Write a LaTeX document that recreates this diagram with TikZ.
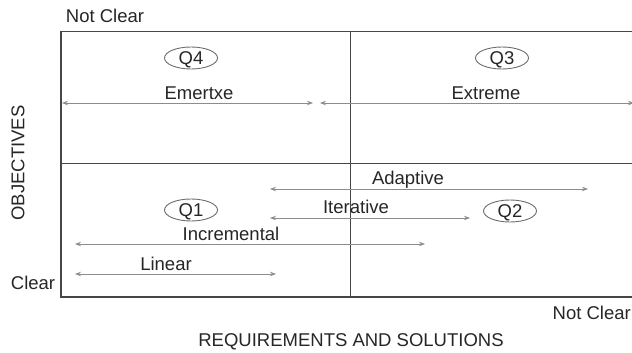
\documentclass[tikz,border=0pt]{standalone}
\usepackage{fontspec}
\setmainfont{Liberation Sans}
\usetikzlibrary{arrows.meta,shapes.geometric}
\definecolor{framec}{RGB}{70,70,70}
\definecolor{arrowc}{RGB}{140,140,140}
\definecolor{ellc}{RGB}{110,110,110}
\begin{document}
\begin{tikzpicture}[x=1pt,y=-1pt,
  lbl/.style={font=\fontsize{18.5}{21}\selectfont, text=black!85, inner sep=0pt},
  quad/.style={ellipse, draw=ellc, line width=0.9pt, font=\fontsize{18.5}{21}\selectfont, text=black!85, minimum width=53pt, minimum height=22pt, inner sep=0pt, text height=13pt, text depth=0pt},
  dbl/.style={arrowc, line width=0.9pt, {Stealth[length=6pt,width=4.5pt]}-{Stealth[length=6pt,width=4.5pt]}},
  frame/.style={framec, line width=1.6pt},
  thin/.style={framec, line width=0.9pt}]
\useasboundingbox (0,0) rectangle (632,353);
% frame
\draw[thin] (61,31) -- (634,31);
\draw[thin] (61,163) -- (634,163);
\draw[thin] (350,31) -- (350,297);
\draw[frame] (61,31) -- (61,297) -- (634,297);
% axis texts
\node[lbl] (nc1) at (105,16) {Not Clear};
\node[lbl] (cl) at (33,283) {Clear};
\node[lbl, anchor=east] (nc2) at (631,313) {Not Clear};
\node[lbl] (req) at (351,342) {REQUIREMENTS AND SOLUTIONS};
\node[lbl, rotate=90] (obj) at (18,163) {OBJECTIVES};
% quadrant labels
\node[quad] (q4) at (191,58) {Q4};
\node[quad] (q3) at (502,58) {Q3};
\node[quad] (q1) at (191,210) {Q1};
\node[quad] (q2) at (510,211) {Q2};
% arrow ends
\coordinate (ea) at (62,103); \coordinate (eb) at (313,103);
\coordinate (xa) at (320,103); \coordinate (xb) at (634,103);
\coordinate (aa) at (270,189); \coordinate (ab) at (588,189);
\coordinate (ia) at (270,218); \coordinate (ib) at (470,218);
\coordinate (na) at (75,244); \coordinate (nb) at (425,244);
\coordinate (la) at (75,274); \coordinate (lb) at (276,274);
\draw[dbl] (ea) -- (eb);
\draw[dbl] (xa) -- (xb);
\draw[dbl] (aa) -- (ab);
\draw[dbl] (ia) -- (ib);
\draw[dbl] (na) -- (nb);
\draw[dbl] (la) -- (lb);
% arrow labels
\node[lbl] (em) at (199,93) {Emertxe};
\node[lbl] (ex) at (486,93) {Extreme};
\node[lbl] (ad) at (408,180) {Adaptive};
\node[lbl] (it) at (356,207) {Iterative};
\node[lbl] (inc) at (231,234) {Incremental};
\node[lbl] (li) at (166,264) {Linear};
\end{tikzpicture}
\end{document}
